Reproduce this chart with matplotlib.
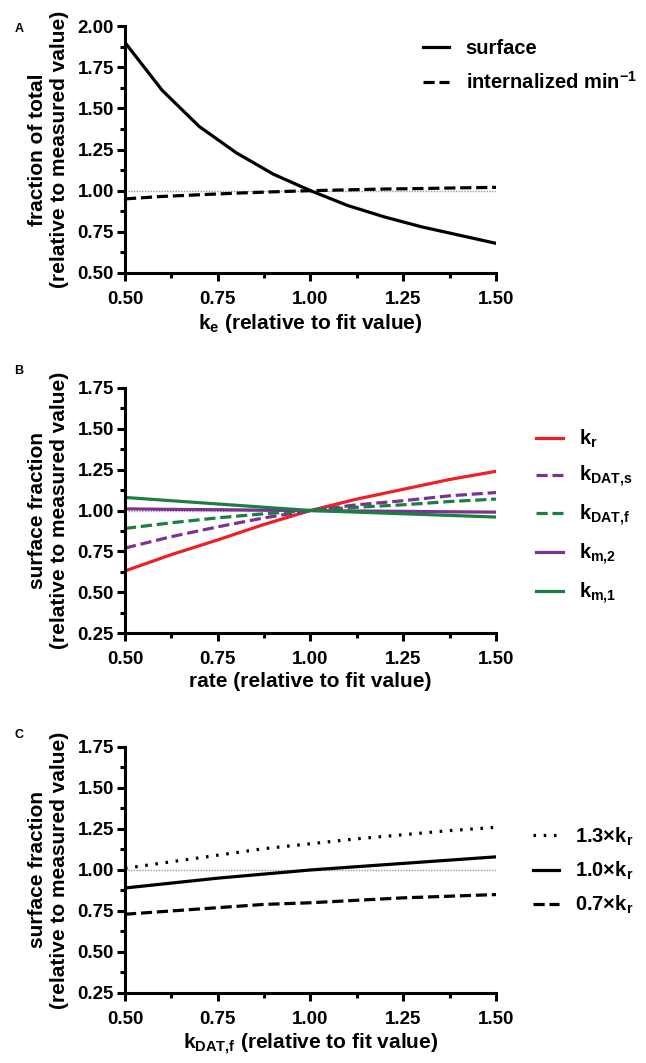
import matplotlib
matplotlib.use("Agg")
import matplotlib.pyplot as plt
import numpy as np

plt.rcParams['font.family'] = ['Liberation Sans', 'DejaVu Sans']
plt.rcParams['font.weight'] = 'bold'
plt.rcParams['mathtext.fontset'] = 'custom'
plt.rcParams['mathtext.rm'] = 'Liberation Sans:bold'
plt.rcParams['mathtext.bf'] = 'Liberation Sans:bold'
plt.rcParams['mathtext.it'] = 'Liberation Sans:bold'

# panel A data
ke = [0.5, 0.6, 0.7, 0.8, 0.9, 1.0, 1.1, 1.2, 1.3, 1.4, 1.5]
surface = [1.90, 1.61, 1.39, 1.23, 1.10, 1.00, 0.91, 0.84, 0.78, 0.73, 0.68]
internalized = [0.95, 0.965, 0.975, 0.985, 0.993, 1.00, 1.005, 1.01, 1.013, 1.017, 1.02]

# panel B data
rate = [0.5, 0.625, 0.75, 0.875, 1.0, 1.125, 1.25, 1.375, 1.5]
k_r = [0.63, 0.73, 0.82, 0.915, 1.00, 1.07, 1.13, 1.19, 1.24]
k_dat_s = [0.77, 0.84, 0.90, 0.955, 1.00, 1.035, 1.06, 1.09, 1.11]
k_dat_f = [0.89, 0.925, 0.955, 0.98, 1.00, 1.02, 1.035, 1.055, 1.07]
k_m2 = [1.01, 1.007, 1.005, 1.002, 1.00, 0.997, 0.995, 0.992, 0.99]
k_m1 = [1.08, 1.06, 1.04, 1.02, 1.00, 0.99, 0.98, 0.97, 0.96]

# panel C data
kdatf = [0.5, 0.625, 0.75, 0.875, 1.0, 1.125, 1.25, 1.375, 1.5]
kr13 = [1.01, 1.05, 1.09, 1.13, 1.16, 1.19, 1.215, 1.24, 1.26]
kr10 = [0.89, 0.92, 0.95, 0.975, 1.00, 1.02, 1.04, 1.06, 1.08]
kr07 = [0.73, 0.75, 0.77, 0.79, 0.80, 0.815, 0.83, 0.84, 0.85]

xticks = [0.50, 0.75, 1.00, 1.25, 1.50]

red = '#ec2027'
purple = '#7b3294'
green = '#1b7f3f'

fig = plt.figure(figsize=(6.46, 10.63), dpi=100)
axA = fig.add_axes([0.1935, 0.7432, 0.5743, 0.2323])
axB = fig.add_axes([0.1935, 0.4045, 0.5743, 0.2305])
axC = fig.add_axes([0.1935, 0.0659, 0.5743, 0.2314])

FS = 13.5   # tick labels
LFS = 15    # axis labels
GFS = 14.5  # legend


def style(ax, yticks):
    ax.set_xlim(0.5, 1.5)
    ax.set_ylim(yticks[0], yticks[-1])
    ax.set_xticks(xticks)
    ax.set_xticklabels(['%.2f' % v for v in xticks])
    ax.set_xticks([0.625, 0.875, 1.125, 1.375], minor=True)
    ax.set_yticks(yticks)
    ax.set_yticklabels(['%.2f' % v for v in yticks])
    ax.set_yticks([v + 0.125 for v in yticks[:-1]], minor=True)
    for s in ['top', 'right']:
        ax.spines[s].set_visible(False)
    for s in ['left', 'bottom']:
        ax.spines[s].set_linewidth(2.2)
    ax.tick_params(which='major', length=6, width=2.2, labelsize=FS)
    ax.tick_params(which='minor', length=3.5, width=2.2)
    ax.tick_params(axis='x', which='major', pad=7)
    ax.tick_params(axis='y', which='major', pad=2)
    for lab in ax.get_xticklabels() + ax.get_yticklabels():
        lab.set_fontweight('bold')
    ax.axhline(1.0, color='#999999', lw=1, ls=(0, (1, 1)), zorder=1)


dash = (0, (3.5, 1.5))
dot = (0, (0.8, 2.4))

# A
style(axA, [0.50, 0.75, 1.00, 1.25, 1.50, 1.75, 2.00])
axA.plot(ke, surface, color='black', lw=2.3, label='surface')
axA.plot(ke, internalized, color='black', lw=2.3, ls=dash, label='internalized min$^{\\mathrm{-1}}$')
axA.set_xlabel('k$_{\\mathrm{e}}$ (relative to fit value)', fontsize=LFS, fontweight='bold', labelpad=3)
axA.set_ylabel('fraction of total\n(relative to measured value)', fontsize=LFS, fontweight='bold', labelpad=6)
axA.legend(loc='upper left', bbox_to_anchor=(0.755, 1.02), frameon=False, fontsize=GFS,
           handlelength=1.3, handletextpad=0.8, labelspacing=0.65)

# B
style(axB, [0.25, 0.50, 0.75, 1.00, 1.25, 1.50, 1.75])
axB.plot(rate, k_r, color=red, lw=2.3, label='k$_{\\mathrm{r}}$')
axB.plot(rate, k_dat_s, color=purple, lw=2.3, ls=dash, label='k$_{\\mathrm{DAT{,}s}}$')
axB.plot(rate, k_dat_f, color=green, lw=2.3, ls=dash, label='k$_{\\mathrm{DAT{,}f}}$')
axB.plot(rate, k_m2, color=purple, lw=2.3, label='k$_{\\mathrm{m{,}2}}$')
axB.plot(rate, k_m1, color=green, lw=2.3, label='k$_{\\mathrm{m{,}1}}$')
axB.set_xlabel('rate (relative to fit value)', fontsize=LFS, fontweight='bold', labelpad=3)
axB.set_ylabel('surface fraction\n(relative to measured value)', fontsize=LFS, fontweight='bold', labelpad=6)
axB.legend(loc='upper left', bbox_to_anchor=(1.06, 0.91), frameon=False, fontsize=GFS,
           handlelength=1.3, handletextpad=0.8, labelspacing=0.68)

# C
style(axC, [0.25, 0.50, 0.75, 1.00, 1.25, 1.50, 1.75])
axC.plot(kdatf, kr13, color='black', lw=2.3, ls=dot, label='1.3×k$_{\\mathrm{r}}$')
axC.plot(kdatf, kr10, color='black', lw=2.3, label='1.0×k$_{\\mathrm{r}}$')
axC.plot(kdatf, kr07, color='black', lw=2.3, ls=dash, label='0.7×k$_{\\mathrm{r}}$')
axC.set_xlabel('k$_{\\mathrm{DAT{,}f}}$ (relative to fit value)', fontsize=LFS, fontweight='bold', labelpad=3)
axC.set_ylabel('surface fraction\n(relative to measured value)', fontsize=LFS, fontweight='bold', labelpad=6)
axC.legend(loc='upper left', bbox_to_anchor=(1.05, 0.755), frameon=False, fontsize=GFS,
           handlelength=1.3, handletextpad=0.8, labelspacing=0.6)

fig.text(0.022, 0.973, 'A', fontsize=9, fontweight='bold', va='center')
fig.text(0.022, 0.651, 'B', fontsize=9, fontweight='bold', va='center')
fig.text(0.022, 0.309, 'C', fontsize=9, fontweight='bold', va='center')

fig.savefig('out.png', dpi=100)
